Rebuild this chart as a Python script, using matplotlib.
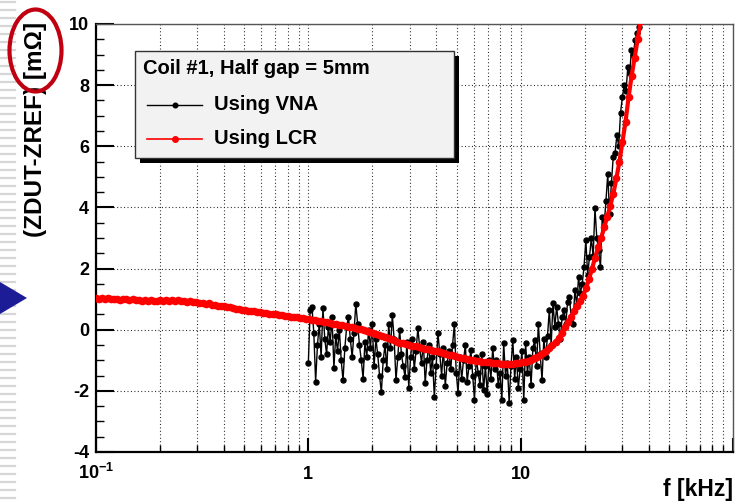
import numpy as np
import matplotlib
matplotlib.use("Agg")
import matplotlib.pyplot as plt
import matplotlib.transforms as mtransforms
from matplotlib.patches import Rectangle, Ellipse, Polygon
from matplotlib.lines import Line2D
from matplotlib.ticker import FixedLocator, NullFormatter, FixedFormatter

plt.rcParams['font.family'] = ['Liberation Sans', 'DejaVu Sans']
plt.rcParams['font.weight'] = 'bold'
plt.rcParams['axes.unicode_minus'] = False
plt.rcParams['mathtext.fontset'] = 'custom'
plt.rcParams['mathtext.rm'] = 'Liberation Sans:bold'
plt.rcParams['mathtext.it'] = 'Liberation Sans:bold'
plt.rcParams['mathtext.bf'] = 'Liberation Sans:bold'

# ---- measurement data -------------------------------------------------------
# LCR meter: logarithmic sweep 0.1 kHz .. 38 kHz, 181 points
lcr_sweep = (0.1, 38.0, 181)
lcr_dz = [
    1.04, 1.02, 1.05, 1.00, 1.03, 0.99, 1.02, 1.01, 0.98, 1.00,
    0.99, 0.97, 1.00, 0.96, 0.98, 0.95, 0.97, 0.94, 0.96, 0.95,
    0.93, 0.96, 0.94, 0.97, 0.95, 0.96, 0.94, 0.97, 0.93, 0.95,
    0.92, 0.93, 0.90, 0.91, 0.88, 0.89, 0.85, 0.86, 0.82, 0.80,
    0.79, 0.77, 0.76, 0.73, 0.74, 0.70, 0.69, 0.67, 0.66, 0.64,
    0.62, 0.61, 0.60, 0.58, 0.57, 0.56, 0.54, 0.53, 0.51, 0.50,
    0.48, 0.47, 0.46, 0.44, 0.43, 0.42, 0.40, 0.39, 0.37, 0.36,
    0.35, 0.33, 0.31, 0.30, 0.28, 0.26, 0.24, 0.22, 0.20, 0.18,
    0.16, 0.14, 0.12, 0.10, 0.08, 0.05, 0.03, 0.01, -0.02, -0.05,
    -0.08, -0.11, -0.14, -0.18, -0.21, -0.25, -0.28, -0.32, -0.35, -0.39,
    -0.42, -0.44, -0.47, -0.49, -0.52, -0.54, -0.57, -0.59, -0.62, -0.64,
    -0.66, -0.69, -0.71, -0.74, -0.76, -0.79, -0.82, -0.84, -0.87, -0.90,
    -0.92, -0.94, -0.96, -0.98, -1.00, -1.02, -1.03, -1.05, -1.06, -1.07,
    -1.08, -1.09, -1.10, -1.11, -1.12, -1.12, -1.12, -1.11, -1.10, -1.08,
    -1.06, -1.04, -1.01, -0.98, -0.94, -0.90, -0.84, -0.77, -0.69, -0.60,
    -0.50, -0.40, -0.28, -0.10, 0.08, 0.25, 0.42, 0.60, 0.78, 0.95,
    1.10, 1.35, 1.65, 2.00, 2.35, 2.70, 3.00, 3.35, 3.70, 4.05,
    4.45, 4.95, 5.50, 6.15, 6.80, 7.60, 8.30, 8.90, 9.50, 10.10, 10.80,
]

# VNA: logarithmic sweep 1 kHz .. 36 kHz, 182 points
vna_sweep = (1.0, 36.0, 182)
vna_dz = [
    -1.1, 0.65, 0.74, -0.1, -1.7, -0.5, 0.2, -0.9, 0.7, -0.3,
    -0.8, 0.1, -0.4, 0.4, -1.25, -0.2, -0.7, 0.0, -1.0, -1.65,
    -0.6, 0.1, 0.4, -0.3, -0.9, -0.1, 0.85, 0.2, -0.5, -1.0,
    -1.6, -0.4, -0.9, 0.0, -0.6, 0.2, -1.2, -0.3, -0.8, -1.5,
    -2.05, -1.0, -0.5, -1.3, 0.2, -0.6, 0.48, -0.3, -1.65, -0.9,
    0.0, -0.8, -1.2, -1.55, -0.4, -1.9, -0.9, -0.3, -1.3, -0.7,
    0.06, -0.6, -1.1, -0.4, -1.75, -1.0, -0.5, -1.4, -0.9, -2.2,
    -1.2, -0.1, -0.8, -1.5, -0.6, -1.85, -1.1, -0.7, -1.3, -0.5,
    0.2, -1.4, -2.07, -0.9, -1.6, -1.0, -0.5, -1.7, -1.2, -0.66,
    -1.5, -2.3, -0.9, -1.4, -1.8, -0.8, -1.97, -1.2, -2.1, -1.0,
    -1.6, -0.6, -1.3, -1.0, -1.8, -1.4, -2.3, -0.44, -1.5, -1.1,
    -2.4, -1.2, -0.34, -1.6, -0.9, -1.9, -1.3, -0.7, -2.3, -0.44,
    -1.4, -0.9, -1.8, -0.6, -0.34, -1.2, 0.2, -0.8, -1.65, -0.3,
    -0.9, -0.2, 0.65, -0.5, 0.87, 0.1, 0.74, 0.2, -0.3, 0.4,
    0.64, 0.2, 0.9, 1.07, 0.4, 0.2, 1.3, 0.8, 1.72, 1.2,
    1.5, 2.05, 2.93, 1.8, 2.38, 3.0, 2.4, 3.98, 3.0, 2.6,
    2.05, 3.7, 3.4, 4.2, 5.1, 3.8, 4.8, 5.65, 5.78, 6.37,
    6.0, 7.1, 7.6, 8.0, 7.8, 8.6, 8.4, 9.15, 9.0, 9.47, 9.7, 9.9,
]

f_lcr = np.geomspace(*lcr_sweep)
f_vna = np.geomspace(*vna_sweep)

x_major = [0.1, 1, 10, 100]
x_major_labels = [r'$10^{-1}$', '1', '10', '']
y_major = [-4, -2, 0, 2, 4, 6, 8, 10]
y_major_labels = ['-4', '-2', '0', '2', '4', '6', '8', '10']

legend_title = 'Coil #1, Half gap = 5mm'
label_vna = 'Using VNA'
label_lcr = 'Using LCR'

# ---- figure -----------------------------------------------------------------
W, H = 740, 503
fig = plt.figure(figsize=(W / 100, H / 100), dpi=100)


def fx(px):
    return px / W


def fy(py):
    return 1 - py / H


ax = fig.add_axes([fx(96), fy(452), fx(733) - fx(96), fy(24) - fy(452)])
ax.set_xscale('log')
ax.set_xlim(0.1, 100)
ax.set_ylim(-4, 10)

x_minor = [m * d for d in (0.1, 1, 10) for m in range(2, 10)]
ax.xaxis.set_major_locator(FixedLocator(x_major))
ax.xaxis.set_minor_locator(FixedLocator(x_minor))
ax.xaxis.set_major_formatter(NullFormatter())
ax.xaxis.set_minor_formatter(NullFormatter())
ax.yaxis.set_major_locator(FixedLocator(y_major))
ax.yaxis.set_major_formatter(FixedFormatter(y_major_labels))
ax.yaxis.set_minor_locator(FixedLocator(np.arange(-4, 10.01, 0.5)))

ax.tick_params(axis='y', which='major', direction='in', length=13, width=1.5,
               pad=5, labelsize=13, right=False)
ax.tick_params(axis='y', which='minor', direction='in', length=6, width=1.0,
               right=False)
ax.tick_params(axis='x', which='major', direction='in', length=10, width=1.5,
               top=False)
ax.tick_params(axis='x', which='minor', direction='in', length=5, width=1.0,
               top=False)
for lbl in ax.get_yticklabels():
    lbl.set_fontweight('bold')

# dotted grid
grid_kw = dict(color='#222222', linewidth=0.8, linestyle=(0, (0.9, 2.2)))
ax.grid(True, which='both', axis='x', **grid_kw)
ax.grid(True, which='major', axis='y', **grid_kw)
ax.set_axisbelow(True)

for side in ('left', 'bottom'):
    ax.spines[side].set_linewidth(1.6)
    ax.spines[side].set_color('black')
for side in ('top', 'right'):
    ax.spines[side].set_linewidth(1.0)
    ax.spines[side].set_color('#555555')

# x tick labels aligned on a common baseline
lbl_trans = mtransforms.blended_transform_factory(ax.transData, ax.transAxes) + \
    mtransforms.ScaledTranslation(0, -27 / 100, fig.dpi_scale_trans)
for v, s in zip(x_major, x_major_labels):
    if s:
        ax.text(v, 0, s, transform=lbl_trans, ha='center', va='baseline',
                fontsize=13, fontweight='bold', clip_on=False)

# data
ax.plot(f_vna, vna_dz, color='black', linewidth=1.0, marker='o',
        markersize=3.6, zorder=3)
ax.plot(f_lcr, lcr_dz, color='red', linewidth=3.0, marker='o',
        markersize=4.5, markeredgecolor='red', zorder=4)

# axis titles
fig.text(fx(36), fy(22), '(ZDUT-ZREF) [m\u03a9]', rotation=90, ha='center',
         va='top', fontsize=17.5, fontweight='bold')
fig.text(fx(733), fy(496), 'f [kHz]', ha='right', va='baseline',
         fontsize=16.5, fontweight='bold')

# legend box with shadow
fig.add_artist(Rectangle((fx(140), fy(163)), fx(459) - fx(140), fy(56) - fy(163),
                         transform=fig.transFigure, facecolor='black',
                         edgecolor='none', zorder=5))
fig.add_artist(Rectangle((fx(135), fy(158)), fx(454) - fx(135), fy(51) - fy(158),
                         transform=fig.transFigure, facecolor='#f2f2f2',
                         edgecolor='#333333', linewidth=1.0, zorder=6))
fig.text(fx(143), fy(74), legend_title, ha='left', va='baseline',
         fontsize=14.5, fontweight='bold', zorder=7)
for py, color, ms, lw, txt in ((105, 'black', 3.3, 1.0, label_vna),
                               (139, 'red', 4.0, 1.2, label_lcr)):
    fig.add_artist(Line2D([fx(147), fx(202)], [fy(py), fy(py)], color=color,
                          linewidth=lw, transform=fig.transFigure, zorder=7))
    fig.add_artist(Line2D([fx(175)], [fy(py)], color=color, marker='o',
                          markersize=ms, linestyle='none',
                          transform=fig.transFigure, zorder=7))
    fig.text(fx(214), fy(py + 5), txt, ha='left', va='baseline', fontsize=14.5,
             fontweight='bold', zorder=7)

# slide decorations: striped margin, pointer arrow, highlighted unit
for py in range(2, H, 8):
    fig.add_artist(Line2D([0, fx(15)], [fy(py), fy(py)], color='#d6d6d6',
                          linewidth=1.6, transform=fig.transFigure, zorder=1))
fig.add_artist(Polygon([(fx(0), fy(282)), (fx(27), fy(298)), (fx(0), fy(314))],
                       closed=True, transform=fig.transFigure,
                       facecolor='#1c1c96', edgecolor='none', zorder=2))
fig.add_artist(Ellipse((fx(35.5), fy(50.5)), width=fx(52), height=82 / H,
                       transform=fig.transFigure, fill=False,
                       edgecolor='#c00010', linewidth=3.0, zorder=8))

fig.savefig('out.png', dpi=100)
